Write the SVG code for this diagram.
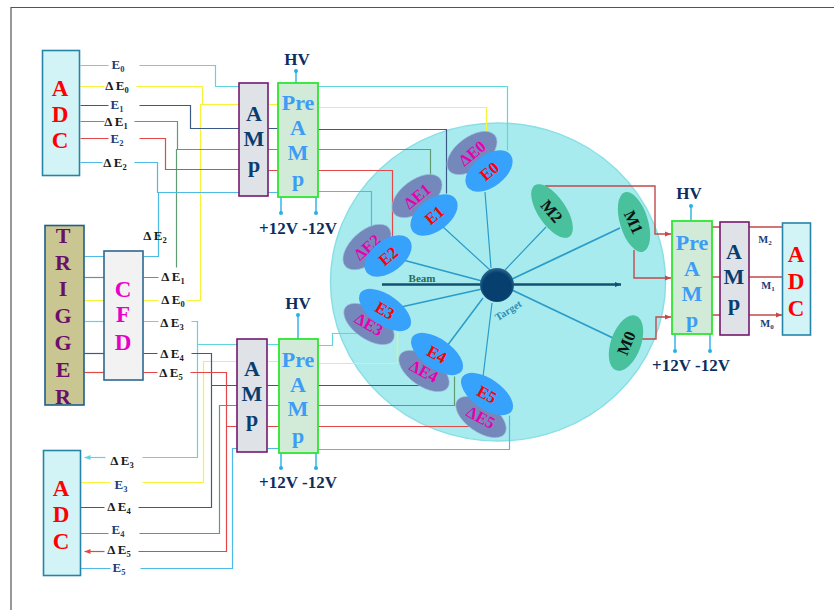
<svg xmlns="http://www.w3.org/2000/svg" width="834" height="610" viewBox="0 0 834 610">
<defs>
<marker id="ah" markerWidth="7" markerHeight="6" refX="6" refY="3" orient="auto" markerUnits="userSpaceOnUse"><path d="M0,0.5 L6,3 L0,5.5 Z" fill="context-stroke"/></marker>
<radialGradient id="tg" cx="50%" cy="55%" r="55%"><stop offset="0.75" stop-color="#07406f"/><stop offset="1" stop-color="#2c6a94"/></radialGradient>
</defs>
<style>
text{font-family:"Liberation Serif","Times New Roman",serif;font-weight:bold;text-anchor:middle}
.w{fill:none;stroke-width:1.200}
.s{fill:none;stroke:#2a9cc8}
.cy{stroke:#5ed6de}.ye{stroke:#f7f33a}.sl{stroke:#3c5a88}.gr{stroke:#5f9c72}.re{stroke:#e24848}.bl{stroke:#4dbbe6}
.mr{fill:none;stroke:#c24a4a;stroke-width:1.400}
.adc{fill:#d2f4f7;stroke:#2584a8;stroke-width:1.600}
.amp{fill:#dfe2e6;stroke:#74196f;stroke-width:1.600}
.pre{fill:#d2ebd9;stroke:#2ee62e;stroke-width:1.800}
.v{stroke:#28b0e6;stroke-width:1.400;fill:none}
.d{fill:#28b0e6}
.dl{fill:#7488bb;stroke:#9fc4dc;stroke-width:.6}
.el{fill:#36a2fb}
.em{fill:#48c19c}
.tr{fill:#f00}.tm{fill:#e600b0}.tb{fill:#073d70}.tp{fill:#3d9cf5}
.lb{font-size:13px;fill:#1b3c78}.lk{font-size:13px;fill:#1a1a1a}
.big{font-size:23px}.m{font-size:22px}.hv{font-size:17px;fill:#0c2d5e}
.sub{font-size:8.500px}
.det{font-size:16.500px}
</style>
<path d="M11,610 V7.500 H834" fill="none" stroke="#555" stroke-width="1.200"/>
<g id="chamber"><ellipse cx="498" cy="282" rx="167.500" ry="159" fill="#a8ebef" stroke="#8adfe6" stroke-width="1.500"/></g>
<g id="connectors">
<g class="w" transform="translate(.5 .5)">
<path class="cy" d="M80,65H108M139,65H215V86H239M318,86H507V150"/>
<path class="ye" d="M80,86H104M136,86H202V104M239,104H200V300H186M143,300H158M268,104H278M318,107H486V133"/>
<path class="sl" d="M80,105H108M139,105H190V128H239M268,128H278M318,129H446V193"/>
<path class="gr" d="M80,121H104M134,121H177V149M239,149H176V267M143,277H158M268,149H278M318,149H430V175"/>
<path class="re" d="M80,138H108M139,138H165V169H239M268,170H278M318,170H392V238"/>
<path class="bl" d="M80,162H102M134,162H157V192H239M268,192H278M318,191H371V227M158,192V256H143M84,256H104"/>
<path class="gr" d="M84,277H104"/><path class="ye" d="M84,300H104"/><path class="cy" d="M84,321H104"/><path class="sl" d="M84,353H104"/><path class="re" d="M84,372H104"/>
<path class="cy" d="M143,321H158M191,321H197V457H142M197,344H237M267,344H279M318,345H332V333H366"/>
<path class="cy" d="M105,457H84" marker-end="url(#ah)"/>
<path class="ye" d="M80,482H110M142,482H203V361H237M267,361H279M318,363H397V332"/>
<path class="sl" d="M143,353H157M191,353H211V507H138M104,507H80M211,385H237M267,385H279M318,385H423"/>
<path class="gr" d="M80,533H108M139,533H219V405H237M267,405H279M318,405H454V376"/>
<path class="re" d="M143,372H157M190,372H226V551H138M226,426H237M267,426H279M318,426H473"/>
<path class="re" d="M104,551H84" marker-end="url(#ah)"/>
<path class="bl" d="M80,568H110M140,568H232V448H237M267,448H279M318,449H509V415"/>
</g>
<g class="s">
<path stroke-width="1.200" d="M485,192L491,268M442,226L490,270"/>
<path stroke-width="1.500" d="M403,260L482,281M401,307L482,289M447,346L483,298"/>
<path stroke-width="1.200" d="M483,377L492,303M546,227L505,270"/>
<path stroke-width="1.800" d="M620,228L510,280M613,338L512,290"/>
</g>
<path d="M382,284.500H621" stroke="#14506f" stroke-width="2.500" fill="none" marker-end="url(#ah)"/>
<path class="mr" marker-end="url(#ah)" d="M545,186H655V234H671"/>
<path class="mr" marker-end="url(#ah)" d="M634,250V278H671"/>
<path class="mr" marker-end="url(#ah)" d="M642,339H656V317H671"/>
<path class="mr" d="M712,227H720M749,227H782M712,277H720M749,277H782M712,315H720"/>
<path class="mr" marker-end="url(#ah)" d="M749,315H782"/>
<path class="v" d="M296,72V83M281,197V213M316,197V213M298,315V339M281,453V468M316,453V468M691,206V221M675,334V351M710,334V351"/>
<g class="d"><circle cx="296" cy="71" r="2"/><circle cx="281" cy="213" r="2"/><circle cx="316" cy="213" r="2"/><circle cx="298" cy="315" r="2"/><circle cx="281" cy="468" r="2"/><circle cx="316" cy="468" r="2"/><circle cx="691" cy="206" r="2"/><circle cx="675" cy="351" r="2"/><circle cx="710" cy="351" r="2"/></g>
</g>
<g id="target"><circle cx="497" cy="285" r="17" fill="url(#tg)"/><text x="508" y="314" transform="rotate(-32 508 310)" font-size="10.500" fill="#2f8fb3">Target</text></g>
<text x="422" y="282" font-size="11" fill="#2a6a5a">Beam</text>
<g id="dE0"><ellipse class="dl" cx="472" cy="153" rx="29" ry="16" transform="rotate(-37 472 153)"/><text class="tm det" x="472" y="159" transform="rotate(-40 472 153)">ΔE0</text></g>
<g id="E0"><ellipse class="el" cx="489" cy="171" rx="27" ry="16" transform="rotate(-37 489 171)"/><text class="tr det" x="489" y="177" transform="rotate(-40 489 171)">E0</text></g>
<g id="dE1"><ellipse class="dl" cx="417" cy="196" rx="29" ry="16" transform="rotate(-37 417 196)"/><text class="tm det" x="417" y="202" transform="rotate(-40 417 196)">ΔE1</text></g>
<g id="E1"><ellipse class="el" cx="434" cy="215" rx="27" ry="16" transform="rotate(-37 434 215)"/><text class="tr det" x="434" y="221" transform="rotate(-40 434 215)">E1</text></g>
<g id="dE2"><ellipse class="dl" cx="367" cy="247" rx="29" ry="16" transform="rotate(-42 367 247)"/><text class="tm det" x="367" y="253" transform="rotate(-42 367 247)">ΔE2</text></g>
<g id="E2"><ellipse class="el" cx="388" cy="256" rx="27" ry="16" transform="rotate(-37 388 256)"/><text class="tr det" x="388" y="262" transform="rotate(-40 388 256)">E2</text></g>
<g id="dE3"><ellipse class="dl" cx="369" cy="324" rx="29" ry="15" transform="rotate(35 369 324)"/><text class="tm det" x="369" y="330" transform="rotate(30 369 324)">ΔE3</text></g>
<g id="E3"><ellipse class="el" cx="385" cy="310" rx="30" ry="15" transform="rotate(35 385 310)"/><text class="tr det" x="385" y="316" transform="rotate(30 385 310)">E3</text></g>
<g id="dE4"><ellipse class="dl" cx="424" cy="371" rx="29" ry="15" transform="rotate(35 424 371)"/><text class="tm det" x="424" y="377" transform="rotate(28 424 371)">ΔE4</text></g>
<g id="E4"><ellipse class="el" cx="437" cy="354" rx="30" ry="15" transform="rotate(35 437 354)"/><text class="tr det" x="437" y="360" transform="rotate(28 437 354)">E4</text></g>
<g id="dE5"><ellipse class="dl" cx="481" cy="417" rx="29" ry="15" transform="rotate(35 481 417)"/><text class="tm det" x="481" y="423" transform="rotate(28 481 417)">ΔE5</text></g>
<g id="E5"><ellipse class="el" cx="487" cy="394" rx="30" ry="15" transform="rotate(35 487 394)"/><text class="tr det" x="487" y="400" transform="rotate(28 487 394)">E5</text></g>
<g id="M2"><ellipse class="em" cx="552" cy="211" rx="31" ry="14" transform="rotate(56 552 211)"/><text class="det" x="552" y="217" fill="#111" transform="rotate(50 552 211)">M2</text></g>
<g id="M1"><ellipse class="em" cx="634" cy="222" rx="31" ry="14" transform="rotate(73 634 222)"/><text class="det" x="634" y="228" fill="#111" transform="rotate(65 634 222)">M1</text></g>
<g id="M0"><ellipse class="em" cx="626" cy="343" rx="29" ry="15" transform="rotate(-70 626 343)"/><text class="det" x="626" y="349" fill="#111" transform="rotate(-68 626 343)">M0</text></g>
<g id="adc1"><rect class="adc" x="42.500" y="50.500" width="37" height="125"/><text class="tr big" x="60" y="96">A</text><text class="tr big" x="60" y="122">D</text><text class="tr big" x="60" y="148">C</text></g>
<g id="adc2"><rect class="adc" x="43.500" y="450.500" width="37" height="125"/><text class="tr big" x="61" y="496">A</text><text class="tr big" x="61" y="522">D</text><text class="tr big" x="61" y="549">C</text></g>
<g id="adc3"><rect class="adc" x="782.500" y="223" width="28" height="112"/><text class="tr big" x="796" y="262">A</text><text class="tr big" x="796" y="289">D</text><text class="tr big" x="796" y="316">C</text></g>
<g id="trigger"><rect x="45" y="225.500" width="39" height="179.500" fill="#c9c691" stroke="#1f5f8b" stroke-width="1.600"/>
<g fill="#6b0f6b" font-size="22"><text x="63" y="243">T</text><text x="63" y="270">R</text><text x="63" y="296">I</text><text x="63" y="323">G</text><text x="63" y="350">G</text><text x="63" y="377">E</text><text x="63" y="404">R</text></g></g>
<g id="cfd"><rect x="104" y="251" width="39" height="129" fill="#f2f2f2" stroke="#2f6690" stroke-width="1.600"/><g font-size="23" fill="#e600c8"><text x="123" y="297">C</text><text x="123" y="322">F</text><text x="123" y="350">D</text></g></g>
<g id="amp1"><rect class="amp" x="239" y="83" width="29" height="113"/><g class="tb m"><text x="254" y="121">A</text><text x="254" y="146">M</text><text x="254" y="172">p</text></g></g>
<g id="amp2"><rect class="amp" x="237" y="339" width="30" height="113"/><g class="tb m"><text x="252" y="376">A</text><text x="252" y="401">M</text><text x="252" y="426">p</text></g></g>
<g id="amp3"><rect class="amp" x="720" y="222" width="29" height="113"/><g class="tb m"><text x="734" y="259">A</text><text x="734" y="284">M</text><text x="734" y="310">p</text></g></g>
<g id="pre1"><rect class="pre" x="278" y="83" width="40" height="114"/><g class="tp m"><text x="298" y="110">Pre</text><text x="298" y="135">A</text><text x="298" y="160">M</text><text x="298" y="186">p</text></g></g>
<g id="pre2"><rect class="pre" x="279" y="339" width="39" height="114"/><g class="tp m"><text x="298" y="367">Pre</text><text x="298" y="392">A</text><text x="298" y="416">M</text><text x="298" y="443">p</text></g></g>
<g id="pre3"><rect class="pre" x="672" y="221" width="40" height="113"/><g class="tp m"><text x="692" y="250">Pre</text><text x="692" y="276">A</text><text x="692" y="301">M</text><text x="692" y="327">p</text></g></g>
<g id="power"><text class="hv" x="297" y="65">HV</text><text class="hv" x="298" y="309">HV</text><text class="hv" x="689" y="199">HV</text>
<text class="hv" x="298" y="234">+12V -12V</text><text class="hv" x="298" y="488">+12V -12V</text><text class="hv" x="691" y="371">+12V -12V</text></g>
<g id="signals">
<text class="lb" x="118" y="69">E<tspan class="sub" dy="3">0</tspan></text>
<text class="lk" x="117" y="90">Δ E<tspan class="sub" dy="3">0</tspan></text>
<text class="lb" x="117" y="109">E<tspan class="sub" dy="3">1</tspan></text>
<text class="lk" x="116" y="126">Δ E<tspan class="sub" dy="3">1</tspan></text>
<text class="lb" x="117" y="143">E<tspan class="sub" dy="3">2</tspan></text>
<text class="lk" x="115" y="167">Δ E<tspan class="sub" dy="3">2</tspan></text>
<text class="lk" x="155" y="240">Δ E<tspan class="sub" dy="3">2</tspan></text>
<text class="lk" x="173" y="281">Δ E<tspan class="sub" dy="3">1</tspan></text>
<text class="lk" x="173" y="304">Δ E<tspan class="sub" dy="3">0</tspan></text>
<text class="lk" x="172" y="327">Δ E<tspan class="sub" dy="3">3</tspan></text>
<text class="lk" x="172" y="358">Δ E<tspan class="sub" dy="3">4</tspan></text>
<text class="lk" x="171" y="377">Δ E<tspan class="sub" dy="3">5</tspan></text>
<text class="lk" x="122" y="465">Δ E<tspan class="sub" dy="3">3</tspan></text>
<text class="lb" x="121" y="489">E<tspan class="sub" dy="3">3</tspan></text>
<text class="lk" x="119" y="511">Δ E<tspan class="sub" dy="3">4</tspan></text>
<text class="lb" x="118" y="534">E<tspan class="sub" dy="3">4</tspan></text>
<text class="lk" x="119" y="554">Δ E<tspan class="sub" dy="3">5</tspan></text>
<text class="lb" x="119" y="572">E<tspan class="sub" dy="3">5</tspan></text>
<text class="lb" style="font-size:10.500px" x="765" y="243">M<tspan style="font-size:7px" dy="2">2</tspan></text>
<text class="lb" style="font-size:10.500px" x="768" y="289">M<tspan style="font-size:7px" dy="2">1</tspan></text>
<text class="lb" style="font-size:10.500px" x="767" y="327">M<tspan style="font-size:7px" dy="2">0</tspan></text>
</g>
</svg>
